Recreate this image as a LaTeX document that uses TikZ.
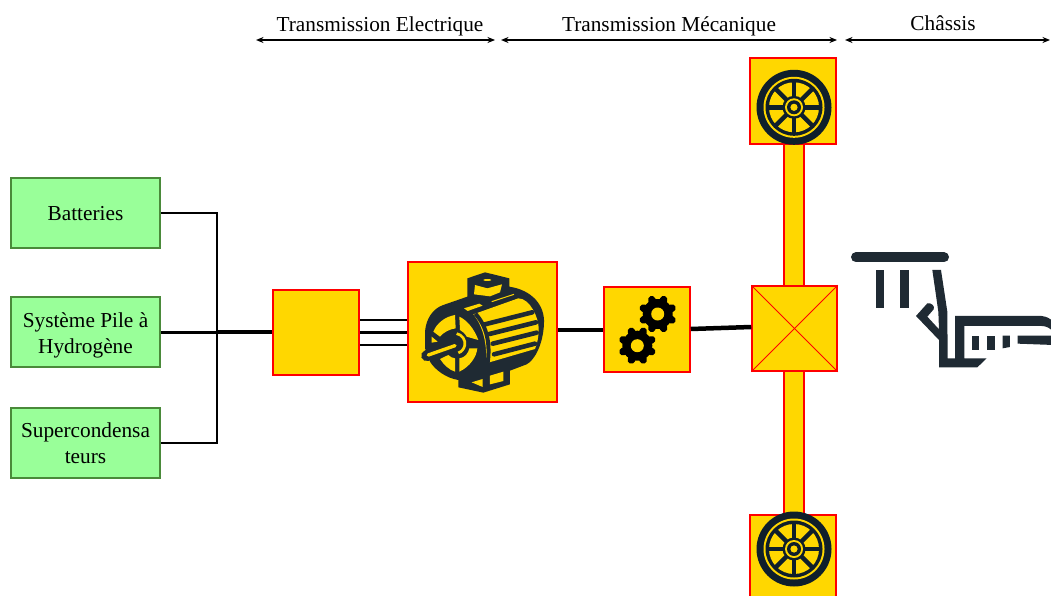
\documentclass[tikz,border=0pt]{standalone}
\usepackage{fontspec}
\setmainfont{Liberation Serif}
\usetikzlibrary{arrows.meta}
\definecolor{boxyellow}{HTML}{FFD700}
\definecolor{boxred}{HTML}{FF0000}
\definecolor{boxgreen}{HTML}{99FF99}
\definecolor{greenedge}{HTML}{4A8A3A}
\definecolor{icondark}{HTML}{1F2A33}
\definecolor{wheeldark}{HTML}{0F1F2B}
\newcommand{\lowered}[2]{\raisebox{0pt}[\dimexpr\height+#1\relax][\dimexpr\depth-#1\relax]{\begin{tabular}{@{}c@{}}#2\end{tabular}}}
\tikzset{
  x=1pt,y=-1pt,
  greenbox/.style={draw=greenedge,fill=boxgreen,line width=1.5pt,minimum width=149pt,minimum height=70pt,inner sep=0pt,font=\fontsize{21.3}{26}\selectfont},
  yellowbox/.style={draw=boxred,fill=boxyellow,line width=1.5pt,inner sep=0pt},
  thinwire/.style={black,line width=1.6pt},
  wire/.style={black,line width=2.2pt},
  pilewire/.style={black,line width=3pt},
  buswire/.style={black,line width=3.4pt},
  thickwire/.style={black,line width=4.5pt},
  span/.style={black,line width=1.2pt,{Stealth[length=7.5pt,width=6pt]}-{Stealth[length=7.5pt,width=6pt]}},
  toplabel/.style={font=\fontsize{21.3}{26}\selectfont,inner sep=0pt},
}
\newcommand{\wheelicon}[2]{%
  \begin{scope}[shift={(#1,#2)}]
    \fill[wheeldark] (0,0) circle[radius=37.5pt];
    \fill[boxyellow] (0,0) circle[radius=30.5pt];
    \fill[wheeldark] (0,0) circle[radius=28.5pt];
    \fill[boxyellow] (0,0) circle[radius=25pt];
    \foreach \a in {0,45,...,315}{
      \draw[wheeldark,line width=4.5pt] (0,0) -- (\a:26pt);
    }
    \fill[wheeldark] (0,0) circle[radius=11.5pt];
    \fill[boxyellow] (0,0) circle[radius=9pt];
    \fill[wheeldark] (0,0) circle[radius=7pt];
    \fill[boxyellow] (0,0) circle[radius=3.6pt];
  \end{scope}}
\newcommand{\gearicon}[2]{%
  \begin{scope}[shift={(#1,#2)}]
    \fill[black] (0,0) circle[radius=15pt];
    \foreach \a in {0,45,...,315}{
      \draw[black,line width=7.5pt,line cap=round] (\a+22.5:12pt) -- (\a+22.5:15.5pt);
    }
    \fill[boxyellow] (0,0) circle[radius=6.5pt];
  \end{scope}}
\begin{document}
\begin{tikzpicture}
\useasboundingbox (0,0) rectangle (1051,596);
\clip (0,0) rectangle (1051,596);
% top spans
\coordinate (s1a) at (256,40); \coordinate (s1b) at (495,40);
\coordinate (s2a) at (501,40); \coordinate (s2b) at (837,40);
\coordinate (s3a) at (845,40); \coordinate (s3b) at (1050,40);
\draw[span] (s1a) -- (s1b);
\draw[span] (s2a) -- (s2b);
\draw[span] (s3a) -- (s3b);
\node[toplabel] (t1) at (380,26.5) {Transmission Electrique};
\node[toplabel] (t2) at (669,26.5) {Transmission Mécanique};
\node[toplabel] (t3) at (943,23.5) {Châssis};
% axle bars
\node[yellowbox,minimum width=20pt,minimum height=142pt] (axletop) at (794,215) {};
\node[yellowbox,minimum width=20pt,minimum height=143pt] (axlebot) at (794,442.5) {};
% sources
\node[greenbox] (bat) at (85.5,213) {\lowered{2.5pt}{Batteries}};
\node[greenbox] (pile) at (85.5,332) {\lowered{3pt}{Système Pile à\\Hydrogène}};
\node[greenbox] (sup) at (85.5,443) {\lowered{2.5pt}{Supercondensa\\teurs}};
% yellow boxes
\node[yellowbox,minimum width=86pt,minimum height=85pt] (inv) at (316,332.5) {};
\node[yellowbox,minimum width=149pt,minimum height=140pt] (motor) at (482.5,332) {};
\node[yellowbox,minimum width=86pt,minimum height=85pt] (gearbox) at (647,329.5) {};
\node[yellowbox,minimum width=85pt,minimum height=85pt] (diff) at (794.5,328.5) {};
\node[yellowbox,minimum width=86pt,minimum height=86pt] (wheeltop) at (793,101) {};
\node[yellowbox,minimum width=86pt,minimum height=86pt,anchor=north] (wheelbot) at (793,514) {};
% cross in differential
\draw[boxred,line width=0.8pt] (diff.north west) -- (diff.south east);
\draw[boxred,line width=0.8pt] (diff.north east) -- (diff.south west);
% connectors
\coordinate (bus) at (217,332);
\draw[thinwire] (bat.east) -| (bus);
\draw[thinwire] (sup.east) -| (bus);
\draw[pilewire] (pile.east) -- (bus);
\draw[buswire] (bus) -- (inv.west |- bus);
\draw[wire] ([yshift=12.5pt]inv.east) -- ([yshift=12.5pt]inv.east -| motor.west);
\draw[wire] (inv.east) -- (inv.east -| motor.west);
\draw[wire] ([yshift=-12.5pt]inv.east) -- ([yshift=-12.5pt]inv.east -| motor.west);
\draw[thickwire] ([yshift=2pt]motor.east) -- ([yshift=2pt]motor.east -| gearbox.west);
\draw[thickwire] ([yshift=0.5pt]gearbox.east) -- ([yshift=1.5pt]diff.west);
% wheels
\wheelicon{794}{107.3}
\wheelicon{794}{549}
% gears
\gearicon{657.7}{314}
\gearicon{637.3}{345.7}
% motor icon (traced in 3x zoom coordinates)
\begin{scope}[shift={(400,255)},x=0.3333pt,y=-0.3333pt]
  \fill[icondark] (75,230) .. controls (78,190) and (100,160) .. (130,150)
    -- (202,125) -- (202,70) -- (255,52) -- (328,70) -- (328,95)
    .. controls (395,105) and (435,150) .. (432,205)
    .. controls (430,265) and (405,315) .. (380,328)
    -- (330,347) -- (330,388) -- (250,413) -- (175,397) -- (175,375)
    .. controls (140,370) and (105,345) .. (90,320) -- (75,280) -- cycle;
  \draw[icondark,line width=11pt,line cap=round] (80,302) -- (165,272);
  % top terminal
  \fill[boxyellow] (225,90) -- (222,118) -- (270,124) -- (300,112) -- (306,88) -- (262,100) -- cycle;
  \fill[boxyellow] (262,75) ellipse[x radius=12,y radius=3];
  \draw[boxyellow,line width=1pt] (275,140) -- (342,118);
  \fill[boxyellow] (192,160) -- (238,146) -- (248,152) -- (203,168) -- cycle;
  % finned body
  \fill[boxyellow] (220,178) -- (355,130) .. controls (390,130) and (418,190) .. (416,225)
    .. controls (416,245) and (412,265) .. (405,282) -- (258,325)
    .. controls (262,270) and (250,215) .. (220,178) -- cycle;
  \foreach \xa/\ya/\xb/\yb in {255/208/397/172, 268/237/408/202, 278/266/410/233, 282/298/405/266}{
    \draw[icondark,line width=4.6pt,line cap=round] (\xa,\ya) -- (\xb,\yb);
  }
  % cover the left end of the fin field with the housing edge
  \draw[icondark,line width=4pt] (226,176) .. controls (262,215) and (272,270) .. (262,330);
  % front face sectors
  \fill[boxyellow] (178,185) .. controls (200,195) and (222,220) .. (235,255)
     -- (200,245) .. controls (195,235) and (188,230) .. (180,225) -- cycle;
  \fill[boxyellow] (232,280) .. controls (230,305) and (210,335) .. (178,350)
     -- (178,310) .. controls (195,308) and (205,295) .. (208,280) -- cycle;
  \fill[boxyellow] (100,230) .. controls (110,205) and (135,185) .. (165,180)
     -- (167,220) .. controls (150,222) and (130,232) .. (120,245) -- cycle;
  \fill[boxyellow] (95,245) -- (113,260) -- (95,263) -- cycle;
  \fill[boxyellow] (120,312) -- (145,300) .. controls (150,305) and (158,310) .. (165,310)
     -- (165,350) .. controls (148,345) and (132,330) .. (120,312) -- cycle;
  % hub crescent
  \draw[boxyellow,line width=2.7pt] (170,236) arc[start angle=-80,end angle=70,radius=30];
  % shaft
  \draw[boxyellow,line width=3.4pt,line cap=round] (85,300) -- (165,272);
  \fill[boxyellow] (270,362) -- (310,350) -- (310,378) -- (270,388) -- cycle;
  \fill[boxyellow] (215,382) -- (248,372) -- (248,396) -- cycle;
\end{scope}
% chassis icon (traced in 3x zoom coordinates)
\begin{scope}[shift={(840,240)},x=0.3333pt,y=-0.3333pt]
  \draw[icondark,line width=10pt,line cap=round] (48,52) -- (312,52);
  \fill[icondark] (107,90) rectangle (132,205);
  \fill[icondark] (181,90) rectangle (206,205);
  \fill[icondark] (277,90) -- (303,90) -- (322,215) -- (323,355) -- (345,355) -- (345,228)
    -- (605,228) .. controls (620,230) and (630,235) .. (640,245) -- (640,275)
    .. controls (630,265) and (620,258) .. (605,258) -- (373,258) -- (373,355) -- (440,355)
    -- (412,382) -- (297,382) -- (297,300) -- (228,228) -- (262,190) .. controls (275,188) and (285,198) .. (281,208)
    -- (262,230) -- (297,268) -- (295,215) -- cycle;
  \fill[icondark] (397,287) rectangle (418,330);
  \fill[icondark] (442,287) rectangle (465,330);
  \fill[icondark] (488,287) -- (510,287) -- (510,321) -- (488,325) -- cycle;
  \fill[icondark] (533,287) -- (640,287) -- (640,315) -- (533,311) -- cycle;
\end{scope}
\end{tikzpicture}
\end{document}
